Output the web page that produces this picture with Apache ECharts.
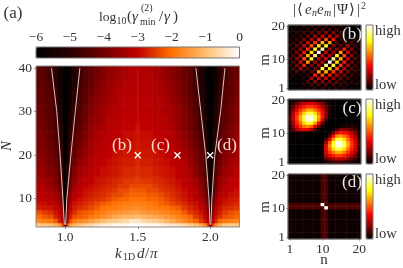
<!DOCTYPE html>
<html><head><meta charset="utf-8">
<style>html,body{margin:0;padding:0;background:#fff}#c{width:403px;height:268px}</style>
<script src="https://cdn.jsdelivr.net/npm/echarts@6/dist/echarts.min.js"></script>
</head><body><div id="c"></div>
<script>
const xEdges=[0.80,0.84,0.88,0.92,0.95,0.97,0.98,0.99,1.01,1.02,1.03,1.05,1.08,1.12,1.16,1.20,1.24,1.28,1.32,1.36,1.40,1.44,1.48,1.52,1.56,1.60,1.64,1.68,1.72,1.76,1.80,1.84,1.88,1.92,1.95,1.97,1.98,1.99,2.01,2.02,2.03,2.05,2.08,2.12,2.16,2.20];
const yEdges=[3.5,4.5,5.5,6.5,7.5,8.5,9.5,10.5,11.5,12.5,13.5,14.5,15.5,17.5,19.5,21.5,23.5,25.5,27.5,29.5,31.5,33.5,35.5,37.5,40.5];
const gammaRows=[
[-0.8,-0.9,-1.0,-1.2,-1.5,-1.9,-2.5,-4.0,-2.5,-1.9,-1.4,-1.1,-0.9,-0.7,-0.6,-0.4,-0.3,-0.2,-0.1,-0.1,-0.1,0,0,0,-0.1,-0.1,-0.2,-0.3,-0.4,-0.5,-0.6,-0.8,-1.0,-1.3,-1.7,-2.1,-2.6,-4.0,-2.6,-2.1,-1.6,-1.2,-0.9,-0.8,-0.8],
[-1.7,-1.8,-1.9,-2.2,-2.7,-3.0,-3.2,-4.5,-3.2,-2.8,-2.2,-1.9,-1.7,-1.6,-1.4,-1.2,-1.0,-0.9,-0.8,-0.7,-0.6,-0.4,-0.4,-0.6,-0.7,-0.8,-0.9,-1.1,-1.3,-1.5,-1.7,-1.9,-2.1,-2.5,-2.8,-3.0,-3.2,-4.5,-3.2,-3.0,-2.6,-2.1,-1.9,-1.8,-1.7],
[-2.0,-2.2,-2.3,-2.7,-2.9,-3.1,-3.4,-4.8,-3.4,-3.0,-2.7,-2.3,-2.2,-2.1,-1.9,-1.8,-1.6,-1.5,-1.3,-1.2,-1.1,-1.1,-1.0,-1.1,-1.2,-1.3,-1.4,-1.5,-1.6,-1.8,-1.9,-2.1,-2.5,-2.7,-3.0,-3.2,-3.5,-4.8,-3.5,-3.2,-2.8,-2.6,-2.3,-2.2,-2.1],
[-2.3,-2.5,-2.6,-2.8,-3.0,-3.15,-3.5,-5.0,-3.6,-3.15,-2.85,-2.6,-2.3,-2.2,-2.1,-1.95,-1.85,-1.7,-1.6,-1.55,-1.5,-1.4,-1.4,-1.5,-1.55,-1.6,-1.7,-1.8,-1.9,-1.95,-2.2,-2.5,-2.65,-2.85,-3.1,-3.3,-3.8,-5.0,-3.8,-3.3,-3.0,-2.75,-2.5,-2.35,-2.2],
[-2.75,-2.8,-2.85,-3.0,-3.15,-3.4,-3.8,-5.2,-3.9,-3.4,-3.05,-2.75,-2.6,-2.5,-2.35,-2.2,-1.95,-1.9,-1.85,-1.8,-1.7,-1.7,-1.6,-1.7,-1.8,-1.85,-1.9,-1.95,-2.1,-2.2,-2.5,-2.65,-2.8,-3.05,-3.3,-3.6,-4.0,-5.2,-4.0,-3.6,-3.15,-2.85,-2.65,-2.6,-2.5],
[-2.85,-2.9,-3.0,-3.1,-3.3,-3.6,-4.0,-5.4,-4.1,-3.6,-3.15,-2.85,-2.75,-2.6,-2.5,-2.35,-2.2,-2.1,-1.95,-1.9,-1.85,-1.85,-1.8,-1.85,-1.9,-1.95,-2.1,-2.2,-2.35,-2.5,-2.65,-2.8,-2.9,-3.15,-3.5,-3.8,-4.2,-5.4,-4.2,-3.8,-3.3,-3.0,-2.8,-2.75,-2.65],
[-3.05,-3.1,-3.15,-3.3,-3.6,-3.9,-4.3,-5.6,-4.3,-3.9,-3.4,-3.05,-2.85,-2.75,-2.65,-2.6,-2.5,-2.35,-2.2,-2.1,-2.1,-1.95,-1.95,-1.95,-2.1,-2.1,-2.2,-2.35,-2.5,-2.65,-2.8,-2.9,-3.1,-3.3,-3.7,-4.0,-4.3,-5.6,-4.3,-4.0,-3.5,-3.1,-2.9,-2.8,-2.75],
[-3.1,-3.15,-3.2,-3.4,-3.7,-4.0,-4.4,-5.7,-4.4,-4.0,-3.6,-3.15,-3.0,-2.85,-2.75,-2.65,-2.6,-2.5,-2.35,-2.35,-2.2,-2.1,-2.1,-2.1,-2.2,-2.2,-2.35,-2.5,-2.6,-2.75,-2.85,-3.0,-3.15,-3.5,-3.8,-4.1,-4.4,-5.7,-4.4,-4.1,-3.7,-3.2,-3.05,-2.9,-2.85],
[-3.15,-3.2,-3.4,-3.6,-3.9,-4.2,-4.5,-5.8,-4.6,-4.2,-3.8,-3.3,-3.05,-2.9,-2.8,-2.75,-2.65,-2.6,-2.5,-2.35,-2.35,-2.2,-2.2,-2.2,-2.35,-2.35,-2.5,-2.6,-2.65,-2.8,-2.9,-3.05,-3.2,-3.6,-4.0,-4.3,-4.6,-5.8,-4.6,-4.3,-3.9,-3.4,-3.1,-3.0,-2.9],
[-3.2,-3.3,-3.5,-3.7,-4.0,-4.3,-4.6,-5.9,-4.7,-4.3,-3.9,-3.4,-3.15,-3.0,-2.9,-2.8,-2.75,-2.65,-2.6,-2.5,-2.5,-2.35,-2.35,-2.35,-2.35,-2.5,-2.6,-2.65,-2.75,-2.85,-3.0,-3.1,-3.3,-3.7,-4.1,-4.4,-4.7,-5.9,-4.7,-4.4,-4.0,-3.5,-3.2,-3.05,-3.0],
[-3.3,-3.4,-3.6,-3.8,-4.1,-4.3,-4.7,-6,-4.8,-4.4,-4.0,-3.6,-3.2,-3.05,-3.0,-2.85,-2.8,-2.75,-2.65,-2.6,-2.5,-2.5,-2.45,-2.5,-2.5,-2.6,-2.65,-2.75,-2.8,-2.9,-3.05,-3.15,-3.4,-3.8,-4.2,-4.4,-4.8,-6,-4.8,-4.4,-4.1,-3.6,-3.3,-3.1,-3.05],
[-3.4,-3.5,-3.6,-3.9,-4.2,-4.4,-4.8,-6,-4.9,-4.5,-4.1,-3.7,-3.3,-3.1,-3.05,-2.9,-2.85,-2.8,-2.75,-2.65,-2.6,-2.6,-2.5,-2.6,-2.6,-2.65,-2.75,-2.8,-2.85,-3.0,-3.1,-3.2,-3.5,-3.9,-4.3,-4.5,-4.9,-6,-4.9,-4.5,-4.2,-3.7,-3.4,-3.15,-3.1],
[-3.5,-3.6,-3.8,-4.0,-4.3,-4.6,-5,-6,-5.1,-4.6,-4.3,-3.8,-3.4,-3.2,-3.1,-3.0,-2.9,-2.85,-2.8,-2.75,-2.65,-2.65,-2.6,-2.65,-2.65,-2.75,-2.8,-2.85,-2.9,-3.05,-3.15,-3.3,-3.7,-4.1,-4.4,-4.7,-5.1,-6,-5.1,-4.7,-4.3,-3.9,-3.5,-3.3,-3.15],
[-3.6,-3.7,-3.9,-4.1,-4.4,-4.7,-5.1,-6,-5.2,-4.8,-4.4,-4.0,-3.6,-3.4,-3.15,-3.1,-3.0,-2.9,-2.85,-2.8,-2.75,-2.75,-2.65,-2.75,-2.75,-2.8,-2.85,-2.9,-3.0,-3.1,-3.2,-3.5,-3.8,-4.2,-4.5,-4.9,-5.2,-6,-5.2,-4.8,-4.4,-4.1,-3.7,-3.4,-3.3],
[-3.7,-3.8,-4.0,-4.3,-4.5,-4.9,-5.3,-6,-5.4,-5,-4.5,-4.2,-3.8,-3.5,-3.3,-3.15,-3.1,-3.0,-2.9,-2.85,-2.8,-2.8,-2.75,-2.8,-2.8,-2.85,-2.9,-3.0,-3.1,-3.2,-3.4,-3.6,-3.9,-4.3,-4.6,-5,-5.4,-6,-5.4,-5,-4.6,-4.2,-3.8,-3.6,-3.4],
[-3.8,-3.9,-4.1,-4.3,-4.7,-5,-5.4,-6,-5.5,-5.1,-4.7,-4.3,-4.0,-3.6,-3.4,-3.2,-3.15,-3.05,-3.0,-2.9,-2.85,-2.85,-2.8,-2.85,-2.85,-2.9,-3.0,-3.05,-3.15,-3.3,-3.5,-3.8,-4.1,-4.4,-4.8,-5.2,-5.5,-6,-5.5,-5.2,-4.8,-4.3,-4.0,-3.7,-3.5],
[-3.8,-4.0,-4.2,-4.4,-4.8,-5.1,-5.5,-6,-5.6,-5.3,-4.9,-4.4,-4.1,-3.8,-3.5,-3.3,-3.2,-3.1,-3.05,-3.0,-2.9,-2.9,-2.85,-2.9,-2.9,-3.0,-3.05,-3.1,-3.2,-3.4,-3.6,-3.9,-4.2,-4.5,-5,-5.4,-5.6,-6,-5.6,-5.3,-4.9,-4.4,-4.1,-3.8,-3.6],
[-3.9,-4.1,-4.3,-4.5,-4.9,-5.3,-5.6,-6,-5.7,-5.4,-5,-4.6,-4.3,-3.9,-3.6,-3.4,-3.3,-3.15,-3.1,-3.05,-3.0,-3.0,-2.9,-3.0,-3.0,-3.05,-3.1,-3.15,-3.3,-3.5,-3.7,-4.0,-4.3,-4.7,-5.1,-5.5,-5.7,-6,-5.7,-5.4,-5,-4.5,-4.2,-3.9,-3.7],
[-4.0,-4.1,-4.3,-4.6,-5,-5.4,-5.7,-6,-5.8,-5.5,-5.2,-4.7,-4.3,-4.0,-3.7,-3.5,-3.4,-3.2,-3.15,-3.1,-3.05,-3.05,-3.0,-3.05,-3.05,-3.1,-3.15,-3.2,-3.4,-3.5,-3.8,-4.0,-4.3,-4.8,-5.3,-5.6,-5.8,-6,-5.8,-5.5,-5.1,-4.6,-4.3,-4.0,-3.8],
[-4.0,-4.2,-4.3,-4.6,-5.1,-5.5,-5.8,-6,-5.8,-5.6,-5.3,-4.9,-4.4,-4.1,-3.8,-3.6,-3.4,-3.3,-3.2,-3.15,-3.1,-3.05,-3.05,-3.05,-3.1,-3.15,-3.2,-3.3,-3.4,-3.6,-3.8,-4.1,-4.4,-4.9,-5.4,-5.7,-5.9,-6,-5.8,-5.6,-5.2,-4.7,-4.3,-4.0,-3.8],
[-4.1,-4.2,-4.4,-4.7,-5.2,-5.6,-5.8,-6,-5.9,-5.7,-5.4,-5,-4.5,-4.2,-3.9,-3.7,-3.5,-3.4,-3.3,-3.15,-3.1,-3.1,-3.1,-3.1,-3.1,-3.15,-3.2,-3.3,-3.5,-3.7,-3.9,-4.2,-4.5,-5,-5.5,-5.8,-5.9,-6,-5.9,-5.7,-5.3,-4.8,-4.4,-4.1,-3.9],
[-4.1,-4.3,-4.4,-4.8,-5.3,-5.7,-5.9,-6,-5.9,-5.8,-5.5,-5.1,-4.6,-4.3,-4.0,-3.8,-3.6,-3.5,-3.3,-3.2,-3.15,-3.15,-3.1,-3.15,-3.15,-3.2,-3.3,-3.4,-3.6,-3.8,-4.0,-4.3,-4.6,-5.1,-5.6,-5.8,-5.9,-6,-5.9,-5.8,-5.4,-4.9,-4.4,-4.2,-4.0],
[-4.2,-4.3,-4.5,-4.9,-5.4,-5.7,-5.9,-6,-5.9,-5.8,-5.6,-5.2,-4.7,-4.4,-4.1,-3.9,-3.7,-3.5,-3.4,-3.3,-3.2,-3.15,-3.15,-3.15,-3.2,-3.2,-3.3,-3.5,-3.6,-3.8,-4.0,-4.3,-4.7,-5.2,-5.6,-5.9,-6,-6,-6,-5.8,-5.5,-5,-4.5,-4.2,-4.0],
[-4.2,-4.4,-4.6,-5,-5.5,-5.8,-6,-6,-6,-5.9,-5.7,-5.3,-4.8,-4.4,-4.2,-4.0,-3.8,-3.6,-3.5,-3.4,-3.3,-3.2,-3.15,-3.2,-3.2,-3.3,-3.4,-3.6,-3.7,-3.9,-4.1,-4.3,-4.8,-5.3,-5.7,-5.9,-6,-6,-6,-5.9,-5.6,-5.1,-4.6,-4.3,-4.1]
];
const gainColors=['#000000','#2a0000','#700000','#c00000','#ff7000','#ffbe70','#ffffff'];
const hotColors=['#000000','#550000','#aa0000','#ff0000','#ff5500','#ffaa00','#ffff00','#ffff80','#ffffff'];
const leftCurveA=[[0.907,40],[0.943,30],[0.966,20],[0.985,10],[0.995,4]];
const rightCurveA=[[1.102,40],[1.07,30],[1.04,20],[1.012,10],[1.004,4]];
const leftCurveB=[[1.90,40],[1.934,30],[1.968,20],[1.99,10],[1.997,4]];
const rightCurveB=[[2.10,40],[2.07,30],[2.03,20],[2.01,10],[2.003,4]];
const centreLine=[[1.5,14],[1.5,40.5]];
const marks=[[1.5,20],[1.773,20],[1.998,20]];
const nTicks=Array.from({length:20},(_,i)=>String(i+1));
// panels: rows listed from m=20 down to m=1, columns n=1..20
const panelB=[
[2,0,4,0,5,0,6,0,7,0,8,0,6,0,5,0,3,0,1,0],
[0,4,0,5,0,8,0,11,0,12,0,12,0,10,0,6,0,1,0,1],
[4,0,6,0,9,0,14,0,18,0,20,0,20,0,12,0,2,0,1,0],
[0,5,0,10,0,16,0,24,0,30,0,32,0,25,0,4,0,2,0,3],
[5,1,9,1,18,2,27,2,40,3,48,3,40,1,8,0,4,0,6,0],
[0,8,1,16,2,30,3,45,4,64,4,60,1,12,1,8,0,12,0,5],
[6,1,14,2,27,3,50,4,72,5,80,1,18,1,12,1,25,1,10,0],
[0,11,2,24,3,45,4,80,6,90,2,24,2,18,3,40,2,20,1,6],
[7,1,18,3,40,4,72,6,100,2,27,2,24,4,60,3,32,2,12,0],
[0,12,2,30,4,64,6,90,3,30,2,27,6,80,5,48,3,20,1,8],
[8,2,20,3,48,5,80,2,27,3,30,2,90,6,64,4,30,2,12,0],
[0,12,2,32,3,60,2,24,2,27,3,100,6,72,4,40,3,18,1,7],
[6,1,20,2,40,1,18,2,24,6,90,2,80,4,45,3,24,2,11,0],
[0,10,1,25,2,12,1,18,2,80,5,72,4,50,3,27,2,14,1,6],
[5,0,12,1,8,1,12,2,60,4,64,4,45,3,30,2,16,1,8,0],
[0,6,0,4,1,8,1,40,3,48,3,40,2,27,2,18,1,9,0,5],
[3,0,2,0,4,0,25,0,32,2,30,2,24,2,16,1,10,1,5,0],
[0,1,0,2,0,12,0,20,0,20,1,18,1,14,1,9,0,6,0,4],
[1,0,1,0,6,0,10,0,12,0,12,0,11,0,8,0,5,0,4,0],
[0,1,0,3,0,5,0,6,0,8,0,7,0,6,0,5,0,4,0,2]
];
const panelC=[
[1,2,4,6,8,10,10,8,6,4,2,1,0,0,0,0,0,0,0,0],
[2,8,16,24,29,31,31,29,24,16,9,4,1,0,0,0,0,0,0,0],
[4,14,26,34,41,45,45,41,34,26,14,6,1,0,0,0,0,0,0,0],
[6,20,34,45,54,62,62,54,45,34,18,4,1,0,0,0,0,0,0,0],
[8,26,41,54,70,82,82,70,54,38,20,5,0,0,0,0,0,0,0,0],
[10,28,45,62,82,96,96,82,62,40,20,4,0,0,0,0,0,0,0,0],
[10,28,45,62,82,96,100,80,58,32,10,0,0,0,0,0,0,0,0,0],
[8,24,41,54,70,80,76,60,38,16,2,0,0,0,0,0,1,1,1,0],
[6,20,34,45,54,58,50,32,14,3,0,0,0,0,4,5,4,6,4,1],
[4,14,26,32,36,34,24,10,2,0,0,0,2,10,20,20,18,14,9,2],
[0,1,2,3,3,2,1,0,0,0,0,3,16,32,40,38,34,26,16,4],
[0,1,1,2,2,1,0,0,0,0,2,14,38,58,62,54,45,34,24,6],
[0,0,1,1,1,1,0,0,0,0,10,32,60,80,82,70,54,41,29,8],
[0,0,0,0,0,0,0,0,0,1,24,50,76,100,96,82,62,45,31,10],
[0,0,0,0,0,0,0,0,0,2,34,58,80,96,96,82,62,45,31,10],
[0,0,0,0,0,0,0,0,0,3,36,54,70,82,82,70,54,41,29,8],
[0,0,0,0,0,0,0,0,0,3,32,45,54,62,62,54,45,34,24,6],
[0,0,0,0,0,0,0,0,0,2,26,34,41,45,45,41,34,26,16,4],
[0,0,0,0,0,0,0,0,0,1,14,20,24,28,28,26,20,14,8,2],
[0,0,0,0,0,0,0,0,0,0,4,6,8,10,10,8,6,4,2,1]
];
const panelD=[
[2,2,2,2,2,2,2,2,2,11,11,2,2,2,2,2,2,2,2,2],
[2,2,2,2,2,2,2,2,2,11,11,2,2,2,2,2,2,2,2,2],
[2,2,2,2,2,2,2,2,2,11,11,2,2,2,2,2,2,2,2,2],
[2,2,2,2,2,2,2,2,2,11,11,2,2,2,2,2,2,2,2,2],
[2,2,2,2,2,2,2,2,2,11,11,2,2,2,2,2,2,2,2,2],
[2,2,2,2,2,2,2,2,2,11,11,2,2,2,2,2,2,2,2,2],
[2,2,2,2,2,2,2,2,2,11,11,2,2,2,2,2,2,2,2,2],
[2,2,2,2,2,2,2,2,2,11,11,2,2,2,2,2,2,2,2,2],
[2,2,2,2,2,2,2,2,2,11,11,2,2,2,2,2,2,2,2,2],
[11,11,11,11,11,11,11,11,11,100,11,11,11,11,11,11,11,11,11,11],
[11,11,11,11,11,11,11,11,11,11,100,11,11,11,11,11,11,11,11,11],
[2,2,2,2,2,2,2,2,2,11,11,2,2,2,2,2,2,2,2,2],
[2,2,2,2,2,2,2,2,2,11,11,2,2,2,2,2,2,2,2,2],
[2,2,2,2,2,2,2,2,2,11,11,2,2,2,2,2,2,2,2,2],
[2,2,2,2,2,2,2,2,2,11,11,2,2,2,2,2,2,2,2,2],
[2,2,2,2,2,2,2,2,2,11,11,2,2,2,2,2,2,2,2,2],
[2,2,2,2,2,2,2,2,2,11,11,2,2,2,2,2,2,2,2,2],
[2,2,2,2,2,2,2,2,2,11,11,2,2,2,2,2,2,2,2,2],
[2,2,2,2,2,2,2,2,2,11,11,2,2,2,2,2,2,2,2,2],
[2,2,2,2,2,2,2,2,2,11,11,2,2,2,2,2,2,2,2,2]
];
const serif='"Liberation Serif","DejaVu Serif",serif', ink='#333333', frame='#8a8a8a';

const mainData=[];
gammaRows.forEach((r,j)=>r.forEach((v,i)=>mainData.push([xEdges[i],xEdges[i+1],yEdges[j],yEdges[j+1],v])));
const toCells=rows=>{const o=[];rows.forEach((r,j)=>r.forEach((v,i)=>o.push([i,19-j,v])));return o;};

const panelTops=[25,99,174];
const panelH=65, panelL=288, panelW=73;
const grids=[
 {left:36,top:66,width:203.5,height:161,show:true,borderColor:frame,borderWidth:1,backgroundColor:'transparent',z:5,outerBoundsMode:'none'},
 {left:36,top:47,width:203.5,height:11,outerBoundsMode:'none'}
].concat(panelTops.map(t=>({left:panelL,top:t,width:panelW,height:panelH,show:true,borderColor:'#777',borderWidth:1,z:5,outerBoundsMode:'none'})));
const tickLabel={fontFamily:serif,fontSize:13.5,color:ink};
const keyTick=i=>i===0||i===9||i===19;
const xAxes=[
 {gridIndex:0,type:'value',min:0.8,max:2.2,splitLine:{show:false},axisLine:{show:false},
  axisTick:{customValues:[1,1.5,2],length:2,lineStyle:{color:frame}},
  axisLabel:Object.assign({customValues:[1,1.5,2],margin:3,formatter:v=>v.toFixed(1)},tickLabel)},
 {gridIndex:1,type:'value',position:'top',min:-6,max:0,interval:1,splitLine:{show:false},axisLine:{show:false},
  axisTick:{length:2,lineStyle:{color:frame}},
  axisLabel:Object.assign({margin:3,formatter:v=>v===0?'0':'−'+Math.abs(v)},tickLabel)}
].concat([0,1,2].map(k=>({gridIndex:k+2,type:'category',data:nTicks,
  axisLine:{show:false},splitLine:{show:false},
  axisTick:{show:k===2,alignWithLabel:true,length:1.5,interval:keyTick,lineStyle:{color:frame}},
  axisLabel:Object.assign({show:k===2,margin:3,interval:keyTick},tickLabel)})));
const yAxes=[
 {gridIndex:0,type:'value',min:3.5,max:40.5,splitLine:{show:false},axisLine:{show:false},
  axisTick:{customValues:[10,20,30,40],length:2,lineStyle:{color:frame}},
  axisLabel:Object.assign({customValues:[10,20,30,40],margin:4},tickLabel)},
 {gridIndex:1,type:'value',show:false}
].concat([0,1,2].map(k=>({gridIndex:k+2,type:'category',data:nTicks,
  axisLine:{show:false},splitLine:{show:false},
  axisTick:{show:true,alignWithLabel:true,length:1.5,interval:keyTick,lineStyle:{color:frame}},
  axisLabel:Object.assign({margin:3,interval:keyTick},tickLabel)})));

const curve=d=>({type:'line',xAxisIndex:0,yAxisIndex:0,data:d,symbol:'none',silent:true,z:6,lineStyle:{color:'#d8c2c2',width:1}});
const series=[
 {type:'custom',xAxisIndex:0,yAxisIndex:0,data:mainData,dimensions:['x0','x1','y0','y1','v'],encode:{x:[0,1],y:[2,3]},clip:true,silent:true,
  renderItem:(p,api)=>{const a=api.coord([api.value(0),api.value(2)]),b=api.coord([api.value(1),api.value(3)]);
   return {type:'rect',shape:{x:a[0],y:b[1],width:b[0]-a[0]+0.6,height:a[1]-b[1]+0.6},style:{fill:api.visual('color')}};}},
 {type:'heatmap',xAxisIndex:2,yAxisIndex:2,data:toCells(panelB),silent:true},
 {type:'heatmap',xAxisIndex:3,yAxisIndex:3,data:toCells(panelC),silent:true},
 {type:'heatmap',xAxisIndex:4,yAxisIndex:4,data:toCells(panelD),silent:true},
 curve(leftCurveA),curve(rightCurveA),curve(leftCurveB),curve(rightCurveB),
 {type:'line',xAxisIndex:0,yAxisIndex:0,data:centreLine,symbol:'none',silent:true,z:6,lineStyle:{color:'#e04010',width:0.8,opacity:0.45}},
 {type:'scatter',xAxisIndex:0,yAxisIndex:0,data:marks,symbol:'path://M0,0L10,10M10,0L0,10',symbolSize:6,silent:true,z:7,
  itemStyle:{color:'none',borderColor:'#ffffff',borderWidth:1.3,opacity:1}}
];
const visualMap=[
 {type:'continuous',seriesIndex:0,dimension:4,min:-6,max:0,orient:'horizontal',left:36,top:47,itemWidth:11,itemHeight:203.5,calculable:false,text:null,showLabel:false,inRange:{color:gainColors},padding:0,realtime:false,hoverLink:false},
].concat([1,2,3].map((s,k)=>({type:'continuous',seriesIndex:s,dimension:2,min:0,max:100,orient:'vertical',left:366,top:panelTops[k],itemWidth:7,itemHeight:panelH,calculable:false,text:null,showLabel:false,inRange:{color:hotColors},padding:0,hoverLink:false})));

const txt=(x,y,t,o,extra)=>Object.assign({type:'text',x,y,z:20,silent:true,style:Object.assign({text:t,fontFamily:serif,fontSize:13,fill:ink,align:'center',verticalAlign:'middle'},o||{})},extra||{});
const outline=(x,y,w,h)=>({type:'rect',z:20,silent:true,shape:{x,y,width:w,height:h},style:{fill:'none',stroke:'#777',lineWidth:1}});
const L={align:'left'}, I={align:'left',fontStyle:'italic'};
const big=o=>Object.assign({fontSize:15},o), small=o=>Object.assign({fontSize:10},o);
const upright={rotation:Math.PI/2};
const graphic=[
 txt(13,14,'(a)',{fontSize:17}),
 txt(99,17,'log',{fontSize:13.5,align:'left'}),
 txt(116.5,21,'10',small(L)),
 txt(127,17,'(',big(L)),txt(132,17,'γ',big(I)),
 txt(141,8,'(2)',small(L)),
 txt(140,22,'min',small(L)),
 txt(159,17,'/',big(L)),txt(164,17,'γ',big(I)),txt(173,17,')',big(L)),
 txt(115,254,'k',big(I)),txt(123,257,'1D',small(L)),txt(137,254,'d',big(I)),txt(145,254,'/',big(L)),txt(150,254,'π',big(I)),
 txt(7,146,'N',{fontSize:15,fontStyle:'italic'},upright),
 txt(265,60,'m',{fontSize:15},upright),txt(265,133,'m',{fontSize:15},upright),txt(265,207,'m',{fontSize:15},upright),
 txt(324,260,'n',{fontSize:15}),
 txt(122,146,'(b)',{fontSize:17,fill:'#f6dccc'}),
 txt(160.5,146,'(c)',{fontSize:17,fill:'#f6dccc'}),
 txt(227,146,'(d)',{fontSize:17,fill:'#f6dccc'}),
 txt(293,10,'|',big(L)),txt(297,10,'⟨',big(L)),
 txt(305,10,'e',big(I)),txt(312,13,'n',small(I)),
 txt(317,10,'e',big(I)),txt(324,13,'m',small(I)),
 txt(333,10,'|',big(L)),txt(337,10,'Ψ',big(L)),txt(349,10,'⟩',big(L)),txt(357,10,'|',big(L)),
 txt(361,6,'2',small(L)),
 txt(352,35,'(b)',{fontSize:17,fill:'#e8e8e8'}),
 txt(352,109,'(c)',{fontSize:17,fill:'#e8e8e8'}),
 txt(352,183,'(d)',{fontSize:17,fill:'#e8e8e8'}),
 outline(366,25,7,65),outline(366,99,7,65),outline(366,174,7,65),outline(36,47,203.5,11)
];
['high','low'].forEach((t,i)=>panelTops.forEach(pt=>graphic.push(txt(375,i?pt+60:pt+6,t,{align:'left',fontSize:14.5}))));

const chart=echarts.init(document.getElementById('c'),null,{renderer:'canvas'});
chart.setOption({animation:false,backgroundColor:'#ffffff',grid:grids,xAxis:xAxes,yAxis:yAxes,visualMap,series,graphic,tooltip:{show:false}});
</script></body></html>
